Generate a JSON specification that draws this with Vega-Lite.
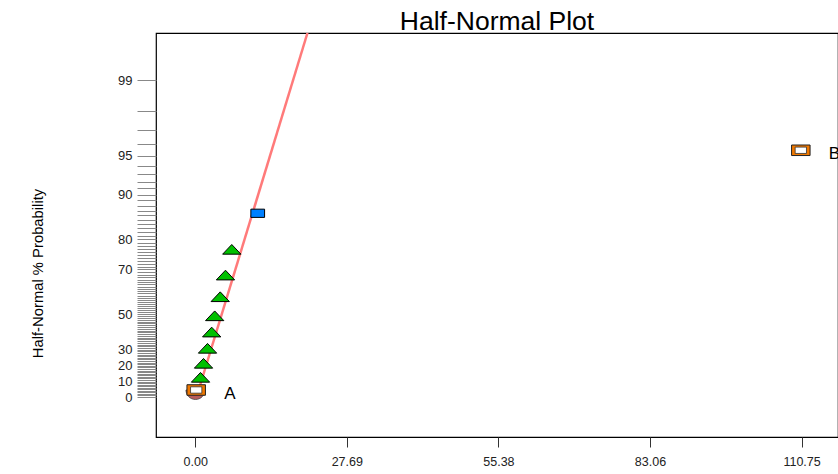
{
  "$schema": "https://vega.github.io/schema/vega-lite/v6.json",
  "width": 682,
  "height": 404,
  "autosize": {"type": "none"},
  "padding": {"left": 156, "top": 33, "right": 0, "bottom": 37},
  "background": "white",
  "config": {
    "view": {"stroke": "#000", "strokeWidth": 1.2},
    "font": "Liberation Sans"
  },
  "title": {
    "text": "Half-Normal Plot",
    "fontSize": 26.5,
    "fontWeight": "normal",
    "font": "Liberation Sans",
    "color": "#000",
    "anchor": "middle",
    "frame": "group",
    "offset": 5,
    "dy": 12
  },
  "data": {
    "values": [
      {"kind": "fit", "x": 0.24, "z": 0},
      {"kind": "fit", "x": 20.5, "z": 2.958},
      {"kind": "semi", "x": 0.05, "z": 0.057},
      {"kind": "error", "x": 0.97, "z": 0.160},
      {"kind": "error", "x": 1.52, "z": 0.274},
      {"kind": "error", "x": 2.25, "z": 0.396},
      {"kind": "error", "x": 3.01, "z": 0.528},
      {"kind": "error", "x": 3.56, "z": 0.660},
      {"kind": "error", "x": 4.57, "z": 0.815},
      {"kind": "error", "x": 5.53, "z": 0.991},
      {"kind": "error", "x": 6.68, "z": 1.200},
      {"kind": "blue", "x": 11.42, "z": 1.493},
      {"kind": "effect", "label": "A", "x": 0.18, "z": 0.057},
      {"kind": "effect", "label": "B", "x": 110.61, "z": 2.005}
    ]
  },
  "encoding": {
    "x": {
      "field": "x",
      "type": "quantitative",
      "scale": {"domain": [-7.16, 117.4], "nice": false, "zero": false},
      "axis": {
        "title": null,
        "values": [0, 27.69, 55.38, 83.06, 110.75],
        "format": ".2f",
        "grid": false,
        "domain": false,
        "tickSize": 10,
        "tickColor": "#333",
        "labelFontSize": 12.5,
        "labelColor": "#222",
        "labelPadding": 8,
        "labelOverlap": false
      }
    },
    "y": {
      "field": "z",
      "type": "quantitative",
      "scale": {"domain": [-0.325, 2.958], "nice": false, "zero": false},
      "axis": {
        "title": "Half-Normal % Probability",
        "titleFontSize": 14.8,
        "titleFontWeight": "normal",
        "titleColor": "#000",
        "titleX": -111,
        "titleY": 240,
        "titleAngle": -90,
        "titleBaseline": "bottom",
        "titleAlign": "center",
        "grid": false,
        "domain": false,
        "tickSize": 19,
        "labelFontSize": 13,
        "labelColor": "#222",
        "labelPadding": 5,
        "labelOverlap": false,
        "labelBound": false,
        "values": [0, 0.012533, 0.02507, 0.03761, 0.05015, 0.06271, 0.07527, 0.08785, 0.10043, 0.11305, 0.12566, 0.1383, 0.15097, 0.16366, 0.17637, 0.18912, 0.20189, 0.2147, 0.22754, 0.24043, 0.25335, 0.26632, 0.27932, 0.29238, 0.30548, 0.31864, 0.33185, 0.34513, 0.35846, 0.37186, 0.38532, 0.39886, 0.41246, 0.42615, 0.43991, 0.45376, 0.4677, 0.48173, 0.49585, 0.51007, 0.5244, 0.53884, 0.55338, 0.56805, 0.58284, 0.59776, 0.61281, 0.62801, 0.64335, 0.65884, 0.67449, 0.69031, 0.7063, 0.72247, 0.73885, 0.75542, 0.77219, 0.7892, 0.80642, 0.82389, 0.84162, 0.85962, 0.8779, 0.89647, 0.91537, 0.93459, 0.95417, 0.97411, 0.99446, 1.01522, 1.03643, 1.05812, 1.08032, 1.10306, 1.12639, 1.15035, 1.17499, 1.20036, 1.22653, 1.25357, 1.28155, 1.31058, 1.34076, 1.3722, 1.40507, 1.43953, 1.47579, 1.5141, 1.55477, 1.59819, 1.64485, 1.6954, 1.75069, 1.81191, 1.88079, 1.95996, 2.05375, 2.17009, 2.32635, 2.57583],
        "labelExpr": "datum.value==0?'0':datum.value==0.12566?'10':datum.value==0.25335?'20':datum.value==0.38532?'30':datum.value==0.67449?'50':datum.value==1.03643?'70':datum.value==1.28155?'80':datum.value==1.64485?'90':datum.value==1.95996?'95':datum.value==2.57583?'99':''",
        "encode": {
          "ticks": {
            "update": {
              "x2": {"signal": "indexof([0,0.12566,0.25335,0.38532,0.67449,1.03643,1.28155,1.64485,1.95996,2.57583], datum.value) >= 0 ? -19 : -10"},
              "stroke": {"signal": "indexof([0,0.12566,0.25335,0.38532,0.67449,1.03643,1.28155,1.64485,1.95996,2.57583], datum.value) >= 0 ? '#808080' : '#333333'"}
            }
          }
        }
      }
    }
  },
  "layer": [
    {
      "transform": [{"filter": "datum.kind == 'fit'"}],
      "mark": {"type": "line", "color": "#ff7a7a", "strokeWidth": 2.5}
    },
    {
      "transform": [{"filter": "datum.kind == 'semi'"}],
      "mark": {"type": "point", "shape": "M-1,0A1,1 0 0,0 1,0Z", "size": 361, "filled": true, "fill": "#b85c5c", "stroke": "#444", "strokeWidth": 0.8, "opacity": 1}
    },
    {
      "transform": [{"filter": "datum.kind == 'error'"}],
      "mark": {"type": "point", "shape": "M0,-0.53L1,0.53L-1,0.53Z", "size": 335, "filled": true, "fill": "#00c000", "stroke": "#000", "strokeWidth": 1, "opacity": 1}
    },
    {
      "transform": [{"filter": "datum.kind == 'blue'"}],
      "mark": {"type": "point", "shape": "M-1,-0.6L1,-0.6L1,0.6L-1,0.6Z", "size": 188, "filled": true, "fill": "#0080ff", "stroke": "#000", "strokeWidth": 1, "opacity": 1}
    },
    {
      "transform": [{"filter": "datum.kind == 'effect'"}],
      "mark": {"type": "point", "shape": "M-1,-0.57L1,-0.57L1,0.57L-1,0.57Z", "size": 342, "filled": true, "fill": "#f07800", "stroke": "#222", "strokeWidth": 1, "opacity": 1}
    },
    {
      "transform": [{"filter": "datum.kind == 'effect'"}],
      "mark": {"type": "point", "shape": "M-1,-0.56L1,-0.56L1,0.56L-1,0.56Z", "size": 128, "filled": true, "fill": "#ffffff", "stroke": "#333", "strokeWidth": 0.8, "opacity": 1}
    },
    {
      "transform": [{"filter": "datum.kind == 'effect'"}],
      "mark": {"type": "text", "align": "left", "baseline": "middle", "dx": 28, "dy": 4, "fontSize": 17, "font": "Liberation Sans", "color": "#000"},
      "encoding": {"text": {"field": "label"}}
    }
  ]
}
